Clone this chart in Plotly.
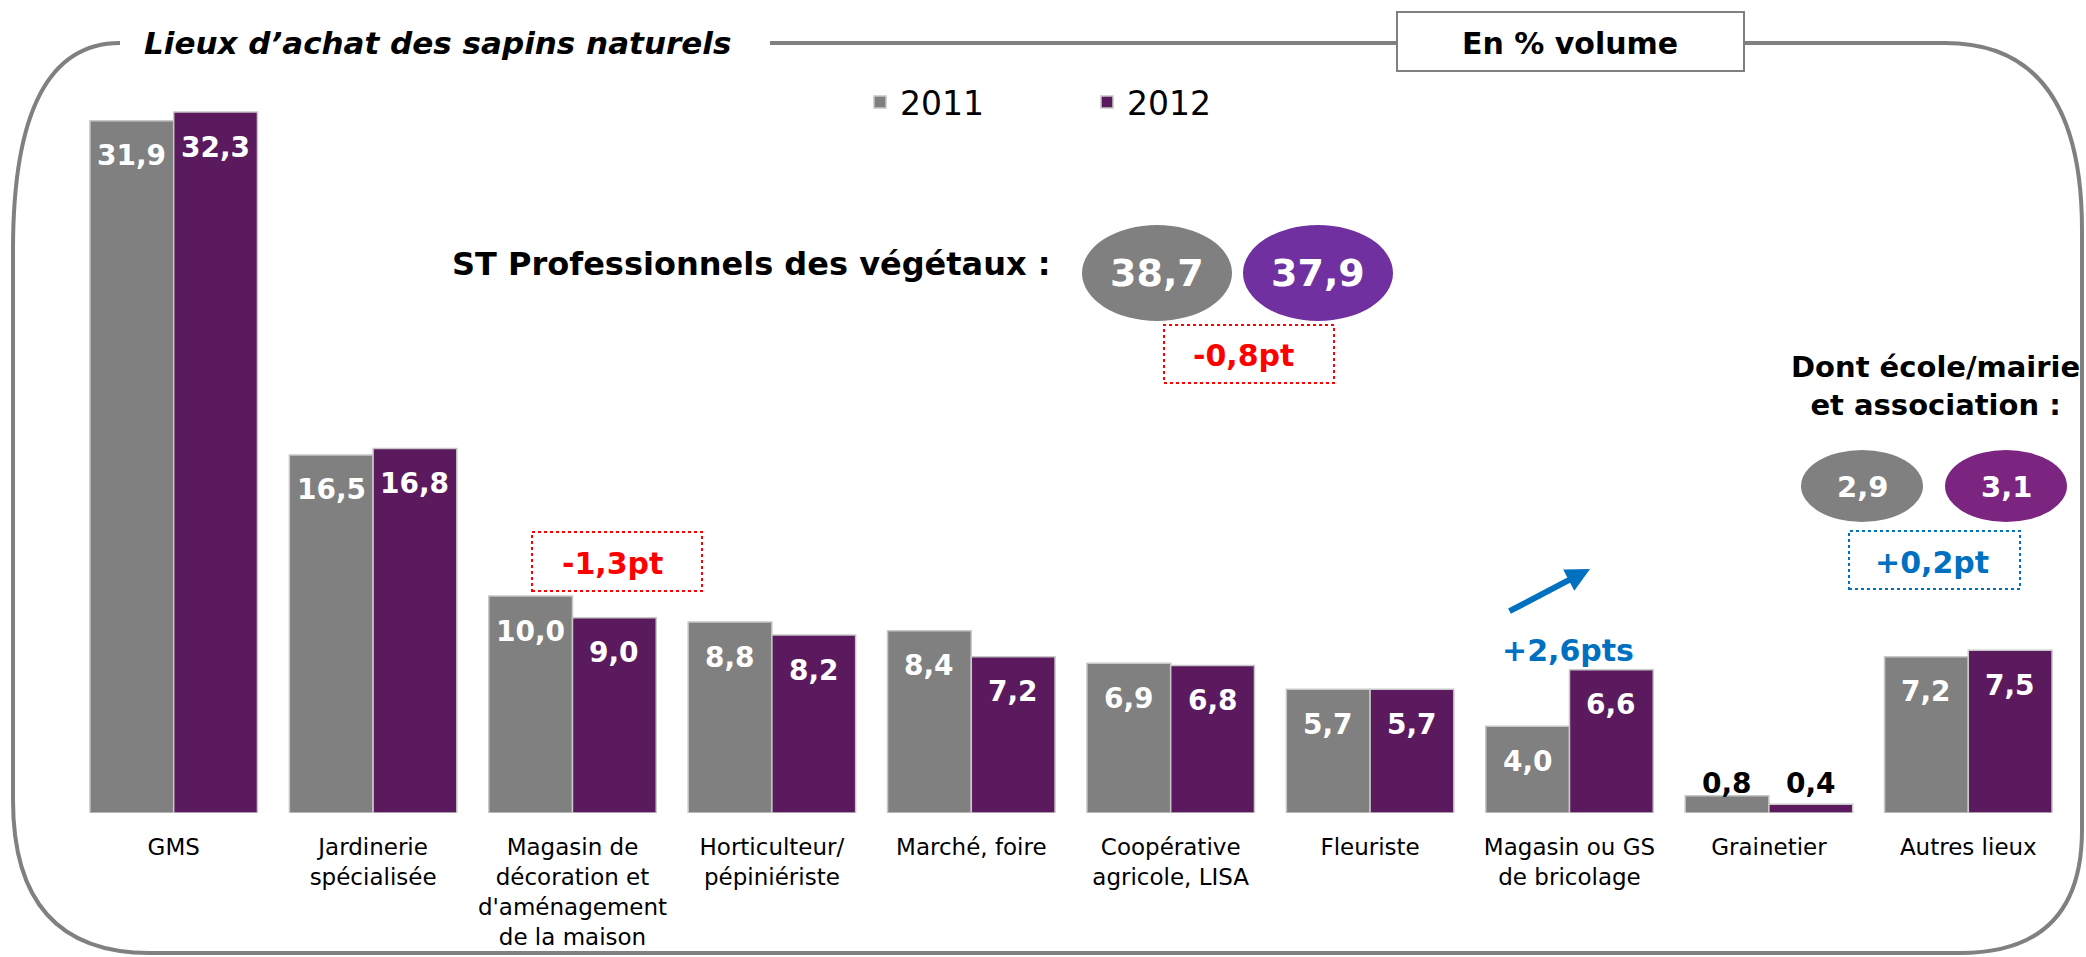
import plotly.graph_objects as go

# ---------------- data ----------------
categories = [
    "GMS",
    "Jardinerie<br>spécialisée",
    "Magasin de<br>décoration et<br>d'aménagement<br>de la maison",
    "Horticulteur/<br>pépiniériste",
    "Marché, foire",
    "Coopérative<br>agricole, LISA",
    "Fleuriste",
    "Magasin ou GS<br>de bricolage",
    "Grainetier",
    "Autres lieux",
]
years = ["2011", "2012"]
values_2011 = [31.9, 16.5, 10.0, 8.8, 8.4, 6.9, 5.7, 4.0, 0.8, 7.2]
values_2012 = [32.3, 16.8, 9.0, 8.2, 7.2, 6.8, 5.7, 6.6, 0.4, 7.5]
subtotal_pro = [38.7, 37.9]          # ST Professionnels des végétaux
subtotal_ecole = [2.9, 3.1]          # Dont école/mairie et association
callout_texts = ["-1,3pt", "-0,8pt", "+2,6pts", "+0,2pt"]
title_text = "Lieux d’achat des sapins naturels"
unit_text = "En % volume"

# ---------------- style ----------------
W, H = 2086, 957
L, R, T, B = 74, 18, 10, 144
PW, PH = W - L - R, H - T - B
GRAY = "#808080"
PURPLE = "#5B1A5E"
ELL_PURPLE = "#7030A0"
ELL_PURPLE2 = "#7B2480"
BLUE = "#0070C0"
RED = "#FF0000"
FONT = "DejaVu Sans"
BARGAP = 0.16
OFF = (1 - BARGAP) / 4


def px(x):
    return (x - L) / PW


def py(y):
    return (H - B - y) / PH


def fmt(v):
    return f"{v:.1f}".replace(".", ",")


def ptext(x, y, text, size, color, xanchor="center", **kw):
    return dict(x=px(x), y=py(y), xref="paper", yref="paper", text=text,
                xanchor=xanchor, yanchor="middle", showarrow=False,
                font=dict(family=FONT, size=size, color=color, weight="bold", **kw))


fig = go.Figure()
fig.add_trace(go.Bar(x=categories, y=values_2011, name=years[0],
                     marker=dict(color=GRAY, line=dict(color="#C8C8C8", width=1.5))))
fig.add_trace(go.Bar(x=categories, y=values_2012, name=years[1],
                     marker=dict(color=PURPLE, line=dict(color="#C8C8C8", width=1.5))))

annotations = []
# bar value labels
for i in range(len(categories)):
    pair = [values_2011[i], values_2012[i]]
    small = max(pair) < 2
    for k, v in enumerate(pair):
        off = -OFF if k == 0 else OFF
        if small:
            annotations.append(dict(x=i + off, y=max(pair), xref="x", yref="y",
                                    text=fmt(v), showarrow=False, xanchor="center",
                                    yanchor="middle", yshift=12,
                                    font=dict(family=FONT, size=28, color="black",
                                              weight="bold")))
        else:
            annotations.append(dict(x=i + off, y=v, xref="x", yref="y",
                                    text=fmt(v), showarrow=False, xanchor="center",
                                    yanchor="middle", yshift=-35,
                                    font=dict(family=FONT, size=28, color="white",
                                              weight="bold")))

shapes = []
# frame
frame = (f"M {px(770)},{py(43)} L {px(1945)},{py(43)} "
         f"Q {px(2082)},{py(43)} {px(2082)},{py(230)} "
         f"L {px(2082)},{py(830)} Q {px(2082)},{py(953)} {px(1960)},{py(953)} "
         f"L {px(150)},{py(953)} Q {px(13)},{py(953)} {px(13)},{py(800)} "
         f"L {px(13)},{py(250)} Q {px(13)},{py(43)} {px(120)},{py(43)}")
shapes.append(dict(type="path", path=frame, xref="paper", yref="paper",
                   line=dict(color=GRAY, width=4), layer="above"))
# unit box
shapes.append(dict(type="rect", xref="paper", yref="paper", x0=px(1397), x1=px(1744),
                   y0=py(71), y1=py(12), fillcolor="white",
                   line=dict(color=GRAY, width=2), layer="above"))
annotations.append(ptext(1570, 43, unit_text, 30, "black"))
# title
annotations.append(ptext(142, 43, title_text, 31, "black", xanchor="left", style="italic"))

# ST professionnels
annotations.append(ptext(1053, 264, "ST Professionnels des végétaux :", 32, "black",
                         xanchor="right"))
for cx, col, v in [(1157, GRAY, subtotal_pro[0]), (1318, ELL_PURPLE, subtotal_pro[1])]:
    shapes.append(dict(type="circle", xref="paper", yref="paper", x0=px(cx - 75), x1=px(cx + 75),
                       y0=py(321), y1=py(225), fillcolor=col, line=dict(width=0), layer="above"))
    annotations.append(ptext(cx, 273, fmt(v), 38, "white"))
# -0,8pt box
shapes.append(dict(type="rect", xref="paper", yref="paper", x0=px(1164), x1=px(1334),
                   y0=py(383), y1=py(325), line=dict(color=RED, width=2, dash="dot"),
                   layer="above"))
annotations.append(ptext(1243, 356, callout_texts[1], 30, RED))
# -1,3pt box
shapes.append(dict(type="rect", xref="paper", yref="paper", x0=px(532), x1=px(702),
                   y0=py(591), y1=py(532), line=dict(color=RED, width=2, dash="dot"),
                   layer="above"))
annotations.append(ptext(612, 563, callout_texts[0], 30, RED))
# +2,6pts arrow and text
annotations.append(dict(x=px(1590), y=py(569), xref="paper", yref="paper", text="",
                        showarrow=True, ax=-82, ay=43, arrowhead=2, arrowsize=0.8,
                        arrowwidth=6, arrowcolor=BLUE))
annotations.append(ptext(1568, 650, callout_texts[2], 30, BLUE))
# Dont école/mairie
annotations.append(ptext(1935, 386, "Dont école/mairie<br>et association :", 29, "black"))
for cx, col, v in [(1862, GRAY, subtotal_ecole[0]), (2006, ELL_PURPLE2, subtotal_ecole[1])]:
    shapes.append(dict(type="circle", xref="paper", yref="paper", x0=px(cx - 61), x1=px(cx + 61),
                       y0=py(522), y1=py(450), fillcolor=col, line=dict(width=0), layer="above"))
    annotations.append(ptext(cx, 487, fmt(v), 29, "white"))
shapes.append(dict(type="rect", xref="paper", yref="paper", x0=px(1849), x1=px(2020),
                   y0=py(589), y1=py(531), line=dict(color=BLUE, width=2, dash="dot"),
                   layer="above"))
annotations.append(ptext(1932, 562, callout_texts[3], 30, BLUE))

fig.update_layout(
    width=W, height=H,
    margin=dict(l=L, r=R, t=T, b=B, autoexpand=False),
    paper_bgcolor="white", plot_bgcolor="white",
    barmode="group", bargap=BARGAP, bargroupgap=0,
    font=dict(family=FONT, color="black"),
    showlegend=True,
    legend=dict(orientation="h", x=px(860), y=py(102), xanchor="left", yanchor="middle",
                font=dict(family=FONT, size=33, color="black"),
                entrywidth=182, bgcolor="rgba(0,0,0,0)"),
    xaxis=dict(showgrid=False, showline=False, zeroline=False, ticks="",
               tickfont=dict(family=FONT, size=23, color="black"), tickangle=0,
               ticklabelstandoff=18),
    yaxis=dict(range=[0, PH / 21.7], visible=False, showgrid=False, zeroline=False),
    shapes=shapes,
    annotations=annotations,
)

fig.write_html("out.html", config={"displayModeBar": False},
               post_script="document.body.style.margin='0';")
